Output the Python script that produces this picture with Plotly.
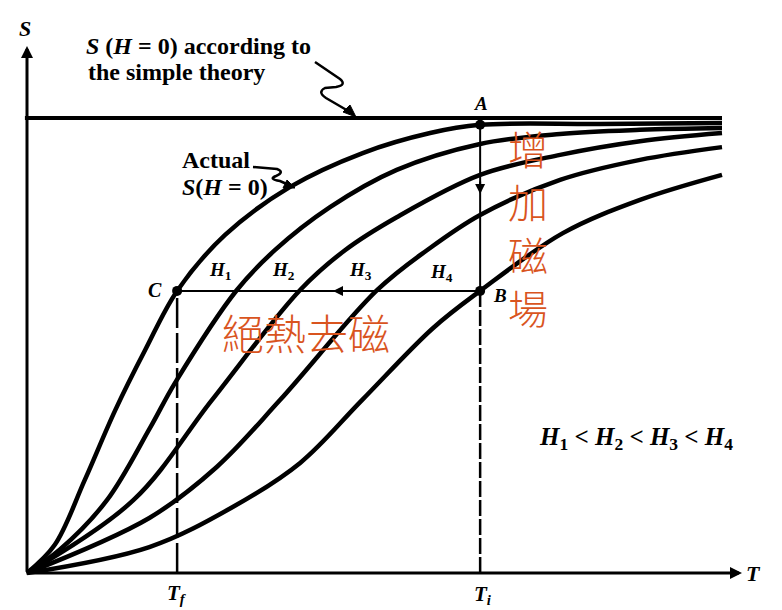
import plotly.graph_objects as go

W, H = 782, 610

# Entropy S (normalised to the simple-theory plateau) against temperature T (arbitrary units)
T_zero = [0, 0.40, 0.83, 1.27, 1.70, 2.16, 2.85, 3.78, 4.83, 5.80, 6.52, 8.24, 10.0]
S_zero = [0, 0.062, 0.204, 0.358, 0.490, 0.620, 0.743, 0.848, 0.923, 0.967, 0.985, 0.987, 0.989]

T_h1 = [0, 0.47, 1.15, 1.77, 2.13, 3.02, 3.57, 4.36, 5.32, 6.52, 7.67, 8.82, 10.0]
S_h1 = [0, 0.051, 0.160, 0.319, 0.418, 0.622, 0.710, 0.804, 0.886, 0.943, 0.965, 0.974, 0.978]

T_h2 = [0, 1.53, 2.66, 3.93, 4.58, 5.32, 6.52, 7.67, 8.82, 10.0]
S_h2 = [0, 0.160, 0.380, 0.622, 0.710, 0.782, 0.875, 0.919, 0.949, 0.967]

T_h3 = [0, 1.76, 2.73, 3.64, 5.04, 5.76, 6.52, 7.67, 8.82, 10.0]
S_h3 = [0, 0.121, 0.233, 0.380, 0.622, 0.710, 0.787, 0.864, 0.908, 0.936]

T_h4 = [0, 1.76, 2.96, 3.93, 4.82, 5.84, 6.52, 7.71, 8.82, 10.0]
S_h4 = [0, 0.057, 0.145, 0.242, 0.380, 0.538, 0.620, 0.747, 0.820, 0.875]

S_simple = 1.0          # plateau of the simple theory
T_simple = [-0.03, 10.0]
T_f, T_i = 2.16, 6.52   # final and initial temperatures
S_A = 0.985             # point A on the zero-field curve at T_i
S_BC = 0.62             # isentrope through B and C

# plot area fills the page: 69.5 px per unit of T, 455 px per unit of S, origin at (27, 573)
X_RANGE = [-27 / 69.5, (W - 27) / 69.5]
Y_RANGE = [(573 - H) / 455, 573 / 455]


def px(x, y):
    """page pixel -> paper coordinates"""
    return x / W, 1 - y / H


def t_of(x):
    return (x - 27) / 69.5


def s_of(y):
    return (573 - y) / 455


INK = "black"
RED = "#d9541e"
SERIF = "Liberation Serif"

fig = go.Figure()

# theory plateau
fig.add_trace(go.Scatter(x=T_simple, y=[S_simple, S_simple], mode="lines",
                         line=dict(color=INK, width=4), hoverinfo="skip"))

# entropy curves
for tx, sy in [(T_zero, S_zero), (T_h1, S_h1), (T_h2, S_h2), (T_h3, S_h3), (T_h4, S_h4)]:
    fig.add_trace(go.Scatter(x=tx, y=sy, mode="lines",
                             line=dict(color=INK, width=4.5, shape="spline", smoothing=1.0),
                             hoverinfo="skip"))

shapes = []
# dashed drop from C to T_f
shapes.append(dict(type="line", xref="x", yref="y", x0=T_f, x1=T_f, y0=0, y1=S_BC,
                   line=dict(color=INK, width=2.5, dash="30px,5px")))
# A -> B at T_i (solid) and B down to the axis
shapes.append(dict(type="line", xref="x", yref="y", x0=T_i, x1=T_i, y0=S_BC, y1=S_A,
                   line=dict(color=INK, width=2)))
shapes.append(dict(type="line", xref="x", yref="y", x0=T_i, x1=T_i, y0=0, y1=S_BC,
                   line=dict(color=INK, width=2.5, dash="16px,3px")))
# B -> C isentrope
shapes.append(dict(type="line", xref="x", yref="y", x0=T_f, x1=T_i, y0=S_BC, y1=S_BC,
                   line=dict(color=INK, width=2)))


def paper_path(cmds):
    out = []
    for c in cmds:
        if isinstance(c, str):
            out.append(c)
        else:
            x, y = px(*c)
            out.append(f"{x:.5f},{y:.5f}")
    return " ".join(out)


# curly leader to the plateau
shapes.append(dict(type="path", xref="paper", yref="paper",
                   path=paper_path(["M", (315, 62), "L", (340, 79), "Q", (347, 85), (336, 87),
                                    "L", (325, 88), "Q", (317, 92), (326, 98), "L", (350, 112)]),
                   line=dict(color=INK, width=2.5)))
shapes.append(dict(type="path", xref="paper", yref="paper",
                   path=paper_path(["M", (356, 117), "L", (343, 112), "L", (350, 105), "Z"]),
                   fillcolor=INK, line=dict(color=INK, width=1)))
# curly leader to the zero-field curve
shapes.append(dict(type="path", xref="paper", yref="paper",
                   path=paper_path(["M", (253, 167), "L", (277, 169), "Q", (285, 172), (276, 176),
                                    "Q", (268, 179), (280, 181), "L", (289, 185)]),
                   line=dict(color=INK, width=2.5)))
shapes.append(dict(type="path", xref="paper", yref="paper",
                   path=paper_path(["M", (295, 188), "L", (283, 188), "L", (287, 180), "Z"]),
                   fillcolor=INK, line=dict(color=INK, width=1)))

# points A, B, C
fig.add_trace(go.Scatter(x=[T_i, T_i, T_f], y=[S_A, S_BC, S_BC], mode="markers",
                         marker=dict(color=INK, size=10), hoverinfo="skip"))

ann = []
ARROW = dict(xref="x", yref="y", axref="x", ayref="y", showarrow=True, arrowhead=2,
             arrowcolor=INK, text="", font=dict(family=SERIF, size=20))
# axes with arrow heads
ann.append(dict(ARROW, x=0, y=s_of(46), ax=0, ay=0, arrowsize=0.8, arrowwidth=3))
ann.append(dict(ARROW, x=t_of(742), y=0, ax=-0.03, ay=0, arrowsize=0.8, arrowwidth=3))
# direction marks on A->B and B->C
ann.append(dict(ARROW, x=T_i, y=s_of(194), ax=T_i, ay=s_of(180), arrowsize=1, arrowwidth=2))
ann.append(dict(ARROW, x=t_of(333), y=S_BC, ax=t_of(350), ay=S_BC, arrowsize=1, arrowwidth=2))


def label(text, x, y, size, xanchor="center", color=INK, family=SERIF, weight=None):
    px_x, px_y = px(x, y)
    f = dict(family=family, size=size, color=color)
    if weight is not None:
        f["weight"] = weight
    ann.append(dict(x=px_x, y=px_y, xref="paper", yref="paper", text=text, showarrow=False,
                    xanchor=xanchor, yanchor="middle", font=f))


label("<b><i>S</i></b>", 25, 29, 22)
label("<b><i>T</i></b>", 753, 573, 22)
label("<b><i>T<sub>f</sub></i></b>", 177, 594, 21)
label("<b><i>T<sub>i</sub></i></b>", 483, 595, 21)
label("<b><i>A</i></b>", 481, 103, 19)
label("<b><i>B</i></b>", 500, 295, 19)
label("<b><i>C</i></b>", 155, 290, 20)
label("<b><i>H</i><sub>1</sub></b>", 220, 271, 19)
label("<b><i>H</i><sub>2</sub></b>", 283, 271, 19)
label("<b><i>H</i><sub>3</sub></b>", 360, 271, 19)
label("<b><i>H</i><sub>4</sub></b>", 442, 273, 19)
label("<b><i>S</i> (<i>H</i> = 0) according to</b>", 84, 46, 24, xanchor="left")
label("<b>the simple theory</b>", 86, 72, 24, xanchor="left")
label("<b>Actual</b>", 180, 160, 24, xanchor="left")
label("<b><i>S</i>(<i>H</i> = 0)</b>", 180, 187, 24, xanchor="left")
label("<b><i>H</i><sub>1</sub> &lt; <i>H</i><sub>2</sub> &lt; <i>H</i><sub>3</sub> &lt; <i>H</i><sub>4</sub></b>",
      636, 438, 25)

# Chinese annotations: raising the field (vertical) and adiabatic demagnetisation
CJK = "Noto Sans CJK TC"
for ch, cy in zip("增加磁場", [148, 201, 254, 307]):
    label(ch, 528, cy, 40, color=RED, family=CJK, weight=300)
label("絕熱去磁", 306, 331, 42, color=RED, family=CJK, weight=300)

fig.update_layout(
    width=W, height=H, margin=dict(l=0, r=0, t=0, b=0),
    font=dict(family=SERIF, size=20, color=INK),
    paper_bgcolor="white", plot_bgcolor="white", showlegend=False,
    xaxis=dict(range=X_RANGE, visible=False, fixedrange=True),
    yaxis=dict(range=Y_RANGE, visible=False, fixedrange=True),
    shapes=shapes, annotations=ann,
)

fig.write_html("out.html")
